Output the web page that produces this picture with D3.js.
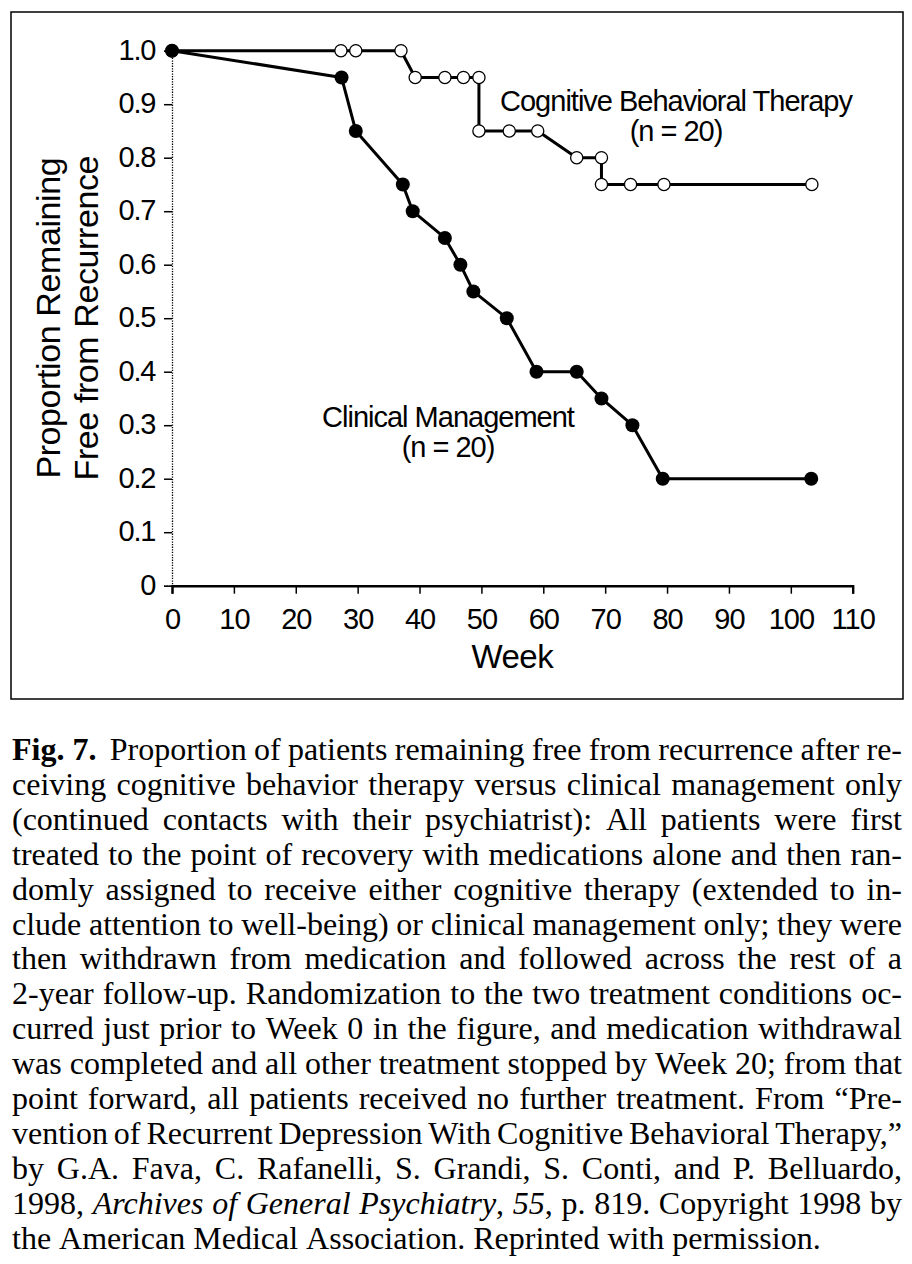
<!DOCTYPE html>
<html><head><meta charset="utf-8">
<script src="https://cdn.jsdelivr.net/npm/d3@7"></script>
<style>body{margin:0;background:#fff} svg{display:block}</style>
</head><body>
<svg id="c" width="912" height="1264"></svg>
<script>
// ---------- data ----------
const weeksCBT = [0, 27.3, 29.7, 37.0, 39.3, 44.1, 47.1, 49.6, 49.6, 54.5, 59.1, 65.4, 69.4, 69.4, 74.1, 79.5, 103.4];
const survCBT  = [1.0, 1.0, 1.0, 1.0, 0.95, 0.95, 0.95, 0.95, 0.85, 0.85, 0.85, 0.80, 0.80, 0.75, 0.75, 0.75, 0.75];
const weeksCM  = [0, 27.4, 29.7, 37.3, 38.9, 44.1, 46.6, 48.7, 54.1, 58.9, 65.4, 69.4, 74.4, 79.3, 103.3];
const survCM   = [1.0, 0.95, 0.85, 0.75, 0.70, 0.65, 0.60, 0.55, 0.50, 0.40, 0.40, 0.35, 0.30, 0.20, 0.20];

const xTickValues = [0, 10, 20, 30, 40, 50, 60, 70, 80, 90, 100, 110];
const xTickLabels = ["0", "10", "20", "30", "40", "50", "60", "70", "80", "90", "100", "110"];
const yTickValues = [0, 0.1, 0.2, 0.3, 0.4, 0.5, 0.6, 0.7, 0.8, 0.9, 1.0];
const yTickLabels = ["0", "0.1", "0.2", "0.3", "0.4", "0.5", "0.6", "0.7", "0.8", "0.9", "1.0"];

const xAxisTitle = "Week";
const yAxisTitleLines = ["Proportion Remaining", "Free from Recurrence"];
const labelCBT = ["Cognitive Behavioral Therapy", "(n = 20)"];
const labelCM = ["Clinical Management", "(n = 20)"];

const captionLines = [
  "*Fig.\u00a07.* Proportion of patients remaining free from recurrence after re-",
  "ceiving cognitive behavior therapy versus clinical management only",
  "(continued contacts with their psychiatrist): All patients were first",
  "treated to the point of recovery with medications alone and then ran-",
  "domly assigned to receive either cognitive therapy (extended to in-",
  "clude attention to well-being) or clinical management only; they were",
  "then withdrawn from medication and followed across the rest of a",
  "2-year follow-up. Randomization to the two treatment conditions oc-",
  "curred just prior to Week 0 in the figure, and medication withdrawal",
  "was completed and all other treatment stopped by Week 20; from that",
  "point forward, all patients received no further treatment. From \u201cPre-",
  "vention of Recurrent Depression With Cognitive Behavioral Therapy,\u201d",
  "by G.A. Fava, C. Rafanelli, S. Grandi, S. Conti, and P. Belluardo,",
  "1998, _Archives_ _of_ _General_ _Psychiatry_, _55_, p. 819. Copyright 1998 by",
  "the American Medical Association. Reprinted with permission."
];

// ---------- drawing ----------
const svg = d3.select("#c");
const sans = "'Liberation Sans', Arial, Helvetica, sans-serif";
const serif = "'Liberation Serif', 'Times New Roman', Times, serif";

svg.append("rect").attr("width", 912).attr("height", 1264).attr("fill", "#fff");
svg.append("rect").attr("x", 11).attr("y", 12).attr("width", 892).attr("height", 687)
  .attr("fill", "none").attr("stroke", "#000").attr("stroke-width", 1.5);

const x = d3.scaleLinear().domain([0, 110]).range([172, 852.7]);
const y = d3.scaleLinear().domain([0, 1]).range([585.7, 50.7]);

// x axis
const gx = svg.append("g").attr("transform", `translate(0,${y(0)})`)
  .call(d3.axisBottom(x).tickValues(xTickValues).tickFormat((d, i) => xTickLabels[i])
    .tickSizeOuter(0).tickSize(8));
gx.select(".domain").attr("stroke", "#000").attr("stroke-width", 2.4);
gx.selectAll(".tick line").attr("stroke", "#000").attr("stroke-width", 1.5);
gx.selectAll(".tick text").attr("y", 23).attr("dy", "0.71em")
  .attr("font-family", sans).attr("font-size", 29).attr("letter-spacing", "-1px").attr("fill", "#000");

// y axis
const gy = svg.append("g").attr("transform", `translate(${x(0)},0)`)
  .call(d3.axisLeft(y).tickValues(yTickValues).tickFormat((d, i) => yTickLabels[i])
    .tickSizeOuter(0).tickSize(8).tickPadding(9));
gy.select(".domain").attr("stroke", "#000").attr("stroke-width", 1.3).attr("stroke-dasharray", "1.3,1.3");
gy.selectAll(".tick line").attr("stroke", "#000").attr("stroke-width", 1.5);
gy.selectAll(".tick text").attr("dy", "0.3em")
  .attr("font-family", sans).attr("font-size", 29).attr("letter-spacing", "-1.3px").attr("fill", "#000");

// axis titles
svg.append("text").attr("x", (x(0) + x(110)) / 2).attr("y", 668).attr("text-anchor", "middle")
  .attr("font-family", sans).attr("font-size", 33).attr("letter-spacing", "-0.5px").attr("fill", "#000")
  .text(xAxisTitle);
const yMid = (y(0) + y(1)) / 2;
yAxisTitleLines.forEach((t, i) => {
  svg.append("text").attr("transform", `translate(${60 + i * 38},${yMid}) rotate(-90)`)
    .attr("text-anchor", "middle").attr("font-family", sans).attr("font-size", 34)
    .attr("letter-spacing", "-0.4px").attr("fill", "#000").text(t);
});

// series
const line = d3.line().x(d => x(d[0])).y(d => y(d[1]));
const cbt = weeksCBT.map((w, i) => [w, survCBT[i]]);
const cm = weeksCM.map((w, i) => [w, survCM[i]]);

svg.append("path").datum(cbt).attr("d", line).attr("fill", "none").attr("stroke", "#000")
  .attr("stroke-width", 3).attr("stroke-linejoin", "round");
svg.append("path").datum(cm).attr("d", line).attr("fill", "none").attr("stroke", "#000")
  .attr("stroke-width", 3).attr("stroke-linejoin", "round");

svg.append("g").selectAll("circle").data(cbt).join("circle")
  .attr("cx", d => x(d[0])).attr("cy", d => y(d[1])).attr("r", 6.1)
  .attr("fill", "#fff").attr("stroke", "#000").attr("stroke-width", 1.3);
svg.append("g").selectAll("circle").data(cm).join("circle")
  .attr("cx", d => x(d[0])).attr("cy", d => y(d[1])).attr("r", 7)
  .attr("fill", "#000");

// series labels
function label(lines, cx, by) {
  lines.forEach((t, i) => {
    svg.append("text").attr("x", cx).attr("y", by + i * 30).attr("text-anchor", "middle")
      .attr("font-family", sans).attr("font-size", 29).attr("letter-spacing", "-1px")
      .attr("fill", "#000").text(t);
  });
}
label(labelCBT, 676, 111);
label(labelCM, 448, 427);

// caption (justified)
function parseWord(w) {
  const parts = w.split(/(\*[^*]+\*|_[^_]+_)/).filter(s => s.length);
  return parts.map(p => {
    if (p[0] === "*" && p[p.length - 1] === "*") return { t: p.slice(1, -1), b: true };
    if (p[0] === "_" && p[p.length - 1] === "_") return { t: p.slice(1, -1), i: true };
    return { t: p };
  });
}
const capLeft = 12, capRight = 902, capTop = 760, capStep = 34.9, capSize = 32;
captionLines.forEach((ln, li) => {
  const yy = capTop + li * capStep;
  const justify = li < captionLines.length - 1;
  const words = ln.split(" ");
  const g = svg.append("g");
  const nodes = words.map(w => {
    const t = g.append("text").attr("y", yy).attr("font-family", serif)
      .attr("font-size", capSize).attr("fill", "#000");
    parseWord(w).forEach(seg => {
      const ts = t.append("tspan").text(seg.t);
      if (seg.b) ts.attr("font-weight", "bold");
      if (seg.i) ts.attr("font-style", "italic");
    });
    return t;
  });
  const widths = nodes.map(n => n.node().getComputedTextLength());
  const total = d3.sum(widths);
  const extraFirst = li === 0 ? 6 : 0;
  let gap = justify ? (capRight - capLeft - total - extraFirst) / (words.length - 1) : capSize * 0.25;
  let scale = 1;
  if (gap < 3) { gap = 3; scale = (capRight - capLeft - gap * (words.length - 1)) / total; }
  let cx = capLeft;
  nodes.forEach((n, i) => {
    n.attr("x", cx / scale);
    cx += widths[i] * scale + gap + (i === 0 ? extraFirst : 0);
  });
  if (scale !== 1) g.attr("transform", `scale(${scale},1)`);
});
</script>
</body></html>
